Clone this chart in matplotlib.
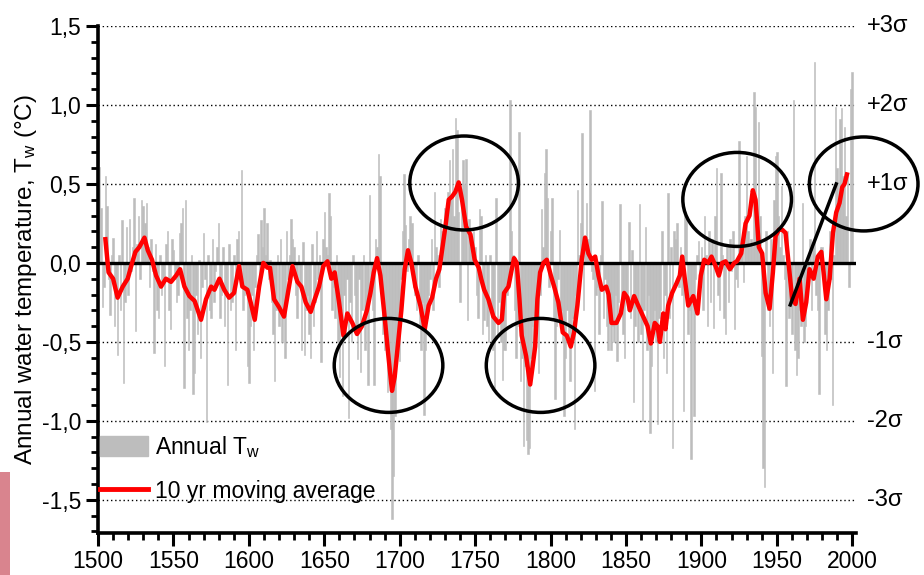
import matplotlib
matplotlib.use("Agg")
import matplotlib.pyplot as plt
import numpy as np
from matplotlib.patches import Ellipse, Patch, Rectangle
from matplotlib.lines import Line2D

plt.rcParams["font.family"] = ["Liberation Sans", "DejaVu Sans"]
plt.rcParams["mathtext.default"] = "regular"

# Annual water temperature anomalies, one row per decade (1990s row runs to 2000)
annual_tw = [
    0.83, 0.61, 0.35, -0.28, -0.15, 0.55, 0.36, -0.10, -0.33, 0.05,
    0.16, -0.40, -0.20, -0.58, 0.05, -0.30, 0.27, -0.76, -0.25, 0.23,
    -0.20, 0.28, -0.05, 0.10, 0.41, -0.43, 0.12, 0.30, -0.10, 0.40,
    0.36, 0.25, 0.38, 0.10, -0.15, 0.15, -0.05, -0.57, 0.12, -0.30,
    -0.35, 0.05, -0.20, -0.10, -0.65, 0.12, 0.20, -0.30, -0.42, 0.15,
    0.08, -0.10, -0.25, -0.20, 0.19, 0.25, 0.35, -0.79, 0.40, -0.35,
    -0.55, -0.30, 0.05, -0.83, -0.70, -0.20, -0.45, 0.02, -0.60, -0.15,
    0.19, -0.10, -1.01, 0.05, -0.30, -0.35, 0.15, -0.25, -0.05, 0.10,
    0.25, -0.35, -0.20, 0.10, -0.40, -0.20, -0.77, 0.12, -0.30, -0.25,
    0.05, -0.55, 0.15, 0.20, -0.10, 0.59, -0.30, -0.20, -0.15, -0.65,
    -0.76, -0.40, -0.20, -0.55, -0.15, 0.05, 0.18, -0.10, 0.27, 0.10,
    0.35, 0.05, 0.25, -0.10, 0.02, -0.25, -0.45, -0.75, -0.30, 0.05,
    -0.40, 0.15, -0.50, -0.30, -0.60, 0.20, -0.10, 0.05, 0.28, 0.15,
    0.10, -0.20, -0.35, 0.05, -0.15, -0.55, 0.13, -0.58, -0.30, -0.20,
    -0.45, -0.60, 0.12, -0.40, -0.25, 0.20, -0.10, 0.05, -0.63, 0.15,
    0.32, 0.10, 0.05, 0.44, 0.30, -0.30, -0.15, -0.35, 0.05, -0.50,
    -0.72, -0.30, -0.84, -0.20, -0.45, -0.10, -0.98, -0.25, -0.50, 0.05,
    -0.20, -0.45, -0.61, -0.10, -0.69, -0.30, 0.05, -0.55, -0.25, -0.77,
    0.43, -0.10, -0.30, -0.77, 0.15, 0.10, 0.69, 0.55, -0.20, -0.45,
    -0.55, -0.40, -0.82, -0.70, -1.05, -1.62, -1.35, -0.97, -0.60, -0.50,
    -0.62, -0.10, 0.20, 0.56, 0.24, -0.05, 0.15, 0.30, 0.25, -0.15,
    -0.20, -0.30, 0.05, -0.40, -0.55, -0.25, -0.96, -0.55, -0.35, -0.20,
    -0.10, 0.15, -0.30, 0.45, 0.10, 0.05, -0.15, 0.28, 0.20, 0.15,
    0.35, 0.20, 0.45, 0.65, 0.40, 0.72, 0.30, 0.92, 0.84, 0.32,
    -0.25, 0.35, 0.65, 0.50, 0.66, -0.36, 0.28, 0.10, 0.05, 0.20,
    0.10, -0.20, -0.35, 0.34, 0.30, -0.45, -0.36, 0.05, -0.40, -0.50,
    0.05, -0.50, -0.55, -0.79, 0.41, -0.45, -0.25, -0.50, -0.74, -0.55,
    -0.55, -0.20, -0.10, 1.03, 0.20, 0.05, -0.30, -0.60, -0.40, 0.83,
    -0.75, -0.60, -1.16, -0.65, -1.12, -1.21, -1.17, -0.60, -0.40, -0.55,
    -0.45, -0.30, -0.70, -0.20, 0.34, 0.10, 0.57, 0.72, 0.41, -0.15,
    0.20, 0.41, -0.35, -0.86, -0.40, -0.10, 0.21, -0.30, -0.50, -0.97,
    -0.60, -0.30, -0.45, -0.75, -0.50, -0.35, -1.05, -0.20, 0.46, 0.05,
    0.25, 0.82, -0.30, 0.10, 0.38, 0.15, 0.97, -0.05, -0.10, -0.81,
    -0.20, -0.15, -0.45, 0.05, 0.39, -0.35, -0.10, -0.40, -0.55, -0.30,
    -0.55, -0.40, -0.50, -0.20, -0.62, -0.25, 0.37, -0.30, -0.45, -0.60,
    -0.20, -0.30, 0.26, -0.35, 0.08, -0.88, -0.40, -0.25, -0.50, 0.37,
    -0.45, -1.00, -0.30, 0.23, -0.55, -0.20, -1.08, -0.65, -0.40, -0.30,
    -0.50, -1.02, -0.35, -0.30, 0.20, -0.60, -0.20, -0.70, 0.44, -0.35,
    0.10, -1.17, 0.20, 0.15, 0.25, -0.15, 0.10, -0.20, -0.94, 0.30,
    0.28, -0.45, -0.30, -1.24, -0.20, -0.97, -0.10, 0.05, 0.14, -0.15,
    0.10, -0.30, 0.30, 0.05, -0.40, 0.20, -0.25, 0.15, -0.41, 0.30,
    0.60, -0.20, -0.30, 0.57, 0.05, -0.35, -0.45, 0.10, -0.25, 0.15,
    -0.05, 0.20, -0.42, -0.10, -0.15, 0.77, 0.05, 0.10, -0.12, 0.30,
    0.68, 0.20, 0.10, 0.15, 0.10, 1.08, 0.99, 0.25, 0.89, 0.30,
    -0.59, -1.30, -1.42, 0.20, -0.30, -0.40, 0.15, -0.70, 0.40, 0.68,
    0.70, 0.30, 0.10, 0.49, 0.05, -0.10, -0.78, 0.20, -0.35, -0.10,
    -0.45, 1.03, -0.55, -0.71, -0.60, -0.30, -0.40, 0.38, -0.50, -0.40,
    -0.20, -0.05, 0.15, -0.30, 0.10, 1.27, -0.20, -0.30, -0.83, 0.10,
    0.10, -0.15, -0.45, -0.55, -0.30, 0.20, -0.10, -0.90, 0.05, 0.99,
    0.60, 0.40, 0.91, 0.98, 0.55, 0.86, 0.30, 0.55, -0.15, 1.10, 1.21,
]
years = np.arange(1500, 1500 + len(annual_tw))

# 10 yr moving average
ma_years = [
    1504.9, 1507.0, 1510.0, 1513.0, 1516.4, 1519.7, 1522.0, 1524.8, 1527.4, 1530.8,
    1533.0, 1535.8, 1538.5, 1541.8, 1545.0, 1548.4, 1551.8, 1554.4, 1557.3, 1560.6,
    1564.0, 1568.3, 1571.6, 1575.0, 1577.2, 1580.5, 1583.7, 1586.9, 1590.2, 1593.5,
    1595.7, 1599.0, 1601.2, 1603.9, 1606.8, 1609.6, 1612.3, 1614.0, 1616.7, 1620.0,
    1623.3, 1625.6, 1628.9, 1632.2, 1634.8, 1637.7, 1641.0, 1643.7, 1646.5, 1649.4,
    1652.1, 1654.7, 1656.9, 1659.8, 1662.7, 1665.3, 1668.6, 1671.7, 1675.0, 1678.3,
    1680.6, 1682.8, 1685.0, 1687.2, 1689.8, 1692.3, 1694.9, 1696.7, 1698.9, 1701.1,
    1703.3, 1705.5, 1707.7, 1710.4, 1713.7, 1716.6, 1719.2, 1721.5, 1724.1, 1726.3,
    1728.1, 1730.3, 1732.5, 1734.7, 1736.9, 1739.1, 1741.3, 1744.0, 1746.9, 1749.7,
    1752.4, 1754.0, 1756.0, 1758.8, 1762.1, 1765.5, 1767.7, 1769.2, 1772.1, 1774.3,
    1775.8, 1777.6, 1779.4, 1780.9, 1783.8, 1786.5, 1788.2, 1789.8, 1791.3, 1793.1,
    1795.3, 1797.5, 1800.2, 1802.4, 1805.2, 1808.1, 1810.8, 1813.4, 1815.6, 1817.8,
    1820.7, 1822.9, 1825.1, 1827.3, 1829.6, 1831.8, 1834.0, 1836.9, 1838.5, 1840.4,
    1843.7, 1846.6, 1848.8, 1851.0, 1852.6, 1855.4, 1858.1, 1861.4, 1864.3, 1866.5,
    1869.1, 1870.9, 1872.5, 1874.7, 1876.2, 1878.0, 1880.6, 1883.5, 1885.7, 1887.3,
    1889.0, 1891.3, 1894.6, 1897.4, 1899.6, 1901.9, 1904.5, 1906.7, 1909.4, 1911.6,
    1913.8, 1916.0, 1918.9, 1921.8, 1923.5, 1926.4, 1929.3, 1931.9, 1934.1, 1935.9,
    1938.1, 1940.3, 1942.6, 1945.2, 1947.4, 1949.2, 1951.4, 1953.6, 1955.8, 1958.0,
    1960.2, 1962.4, 1965.1, 1967.3, 1969.5, 1971.7, 1974.4, 1977.2, 1979.5, 1981.0,
    1982.8, 1985.0, 1987.2, 1989.4, 1991.6, 1993.4, 1994.9, 1996.5,
]
ma_values = [
    0.15, -0.06, -0.10, -0.22, -0.15, -0.10, -0.02, 0.07, 0.10, 0.16,
    0.08, 0.02, -0.08, -0.15, -0.10, -0.12, -0.08, -0.04, -0.15, -0.21,
    -0.24, -0.36, -0.23, -0.15, -0.17, -0.10, -0.17, -0.22, -0.19, -0.02,
    -0.15, -0.17, -0.25, -0.36, -0.15, 0.00, -0.03, -0.03, -0.23, -0.28,
    -0.34, -0.21, -0.02, -0.12, -0.15, -0.25, -0.31, -0.23, -0.15, -0.02,
    0.01, -0.10, -0.06, -0.25, -0.46, -0.32, -0.38, -0.45, -0.40, -0.30,
    -0.19, -0.06, 0.03, -0.08, -0.32, -0.57, -0.81, -0.72, -0.51, -0.30,
    -0.04, 0.08, 0.00, -0.15, -0.27, -0.42, -0.27, -0.22, -0.10, -0.04,
    0.08, 0.23, 0.40, 0.42, 0.45, 0.51, 0.40, 0.23, 0.18, 0.02,
    -0.03, -0.10, -0.17, -0.23, -0.34, -0.38, -0.36, -0.19, -0.15, -0.04,
    0.03, 0.00, -0.23, -0.46, -0.59, -0.77, -0.65, -0.53, -0.23, -0.06,
    0.00, 0.02, -0.08, -0.15, -0.25, -0.44, -0.46, -0.53, -0.44, -0.27,
    0.02, 0.16, 0.06, 0.02, 0.04, -0.08, -0.17, -0.15, -0.20, -0.38,
    -0.38, -0.32, -0.19, -0.22, -0.30, -0.21, -0.27, -0.34, -0.40, -0.51,
    -0.38, -0.40, -0.50, -0.32, -0.42, -0.27, -0.19, -0.13, -0.08, 0.04,
    -0.10, -0.27, -0.21, -0.32, -0.08, 0.02, 0.00, 0.04, -0.02, -0.08,
    0.00, 0.01, -0.04, 0.00, 0.01, 0.06, 0.25, 0.30, 0.46, 0.40,
    0.10, 0.06, -0.19, -0.29, -0.06, 0.17, 0.21, 0.21, 0.19, -0.02,
    -0.23, -0.26, -0.10, -0.36, -0.25, -0.04, -0.10, 0.04, 0.07, -0.06,
    -0.23, -0.10, 0.19, 0.32, 0.38, 0.48, 0.50, 0.56,
]

ytick_values = [-1.5, -1.0, -0.5, 0.0, 0.5, 1.0, 1.5]
ytick_labels = ["-1,5", "-1,0", "-0,5", "0,0", "0,5", "1,0", "1,5"]
xtick_values = [1500, 1550, 1600, 1650, 1700, 1750, 1800, 1850, 1900, 1950, 2000]
sigma = 0.5
sigma_levels = [3, 2, 1, -1, -2, -3]

fig = plt.figure(figsize=(9.24, 5.75), dpi=100)
ax = fig.add_axes([98 / 924, 42 / 575, 758 / 924, 507 / 575])

ax.bar(years, annual_tw, width=1.0, color="#bdbdbd", edgecolor="#bdbdbd",
       linewidth=0.4, zorder=1)

# dotted reference lines at the sigma levels, solid line at zero
for lv in sigma_levels:
    ax.axhline(lv * sigma, color="black", lw=1.0, ls=(0, (1, 2)), zorder=0)
ax.axhline(0, color="black", lw=2.4, zorder=2)

ax.plot(ma_years, ma_values, color="#ff0000", lw=3.2, zorder=3)

for lv in sigma_levels:
    ax.text(1.0145, lv * sigma, f"{lv:+d}\u03c3", transform=ax.get_yaxis_transform(),
            ha="left", va="center", fontsize=17)

# highlighted warm / cold episodes
episodes = [
    (1742.7, 0.506),
    (1692.6, -0.649),
    (1793.4, -0.649),
    (1923.7, 0.402),
    (2007.6, 0.50),
]
for cx, cy in episodes:
    ax.add_patch(Ellipse((cx, cy), 72.0, 0.595, fill=False, edgecolor="black",
                         lw=2.5, zorder=4, clip_on=False))
ax.plot([1958.9, 1989.4], [-0.266, 0.5], color="black", lw=2.5, zorder=4)

ax.set_xlim(1500, 2002.5)
ax.set_ylim(-1.71, 1.5)
ax.set_xticks(xtick_values)
ax.set_xticks(np.arange(1500, 2001, 10), minor=True)
ax.set_yticks(ytick_values, ytick_labels)
ax.set_yticks(np.arange(-1.7, 1.51, 0.1), minor=True)

for side in ["top", "right"]:
    ax.spines[side].set_visible(False)
for side in ["left", "bottom"]:
    ax.spines[side].set_linewidth(2.6)
ax.tick_params(which="major", length=9, width=2.2, labelsize=16.5, pad=3)
ax.tick_params(which="minor", length=5, width=2.0)

ax.set_ylabel("Annual water temperature, T$_w$ (\u00b0C)", fontsize=17.5, labelpad=2)

handles = [Patch(facecolor="#bdbdbd", edgecolor="#bdbdbd"),
           Line2D([], [], color="#ff0000", lw=3.5)]
ax.legend(handles, ["Annual T$_w$", "10 yr moving average"], loc="lower left",
          bbox_to_anchor=(0.002, 0.06), frameon=False, fontsize=16.5,
          handlelength=2.1, handleheight=0.95, handletextpad=0.3,
          labelspacing=0.85, borderaxespad=0, borderpad=0)

fig.add_artist(Rectangle((0, 0), 10 / 924, 103 / 575, transform=fig.transFigure,
                         facecolor="#d9848e", edgecolor="none"))

fig.savefig("out.png", dpi=100)
